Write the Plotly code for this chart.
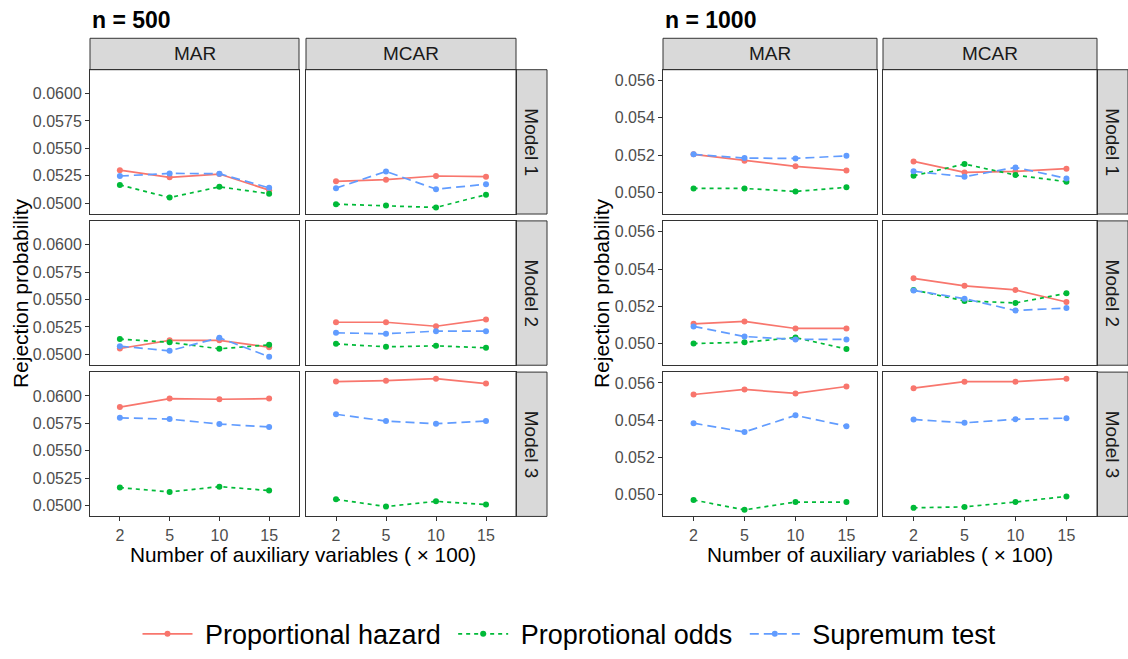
import plotly.graph_objects as go

# ---------------------------------------------------------------------------
# Data: rejection probabilities by number of auxiliary variables (x 100)
# Each array is indexed [model][mechanism][x level]; mechanisms are MAR, MCAR
# ---------------------------------------------------------------------------
x_levels = ["2", "5", "10", "15"]
mechanisms = ["MAR", "MCAR"]
models = ["Model 1", "Model 2", "Model 3"]
test_names = ["Proportional hazard", "Proprotional odds", "Supremum test"]

ph_500 = [
    [[0.05301, 0.05236, 0.05266, 0.05119], [0.05200, 0.05215, 0.05248, 0.05242]],
    [[0.05054, 0.05128, 0.05128, 0.05066], [0.05293, 0.05293, 0.05257, 0.05319]],
    [[0.05899, 0.05976, 0.05970, 0.05976], [0.06131, 0.06140, 0.06158, 0.06113]],
]
po_500 = [
    [[0.05167, 0.05051, 0.05149, 0.05087], [0.04991, 0.04979, 0.04961, 0.05078]],
    [[0.05140, 0.05110, 0.05051, 0.05087], [0.05096, 0.05069, 0.05078, 0.05060]],
    [[0.05164, 0.05125, 0.05173, 0.05137], [0.05057, 0.04991, 0.05039, 0.05009]],
]
sup_500 = [
    [[0.05248, 0.05272, 0.05269, 0.05140], [0.05137, 0.05290, 0.05128, 0.05173]],
    [[0.05075, 0.05033, 0.05152, 0.04979], [0.05197, 0.05188, 0.05212, 0.05212]],
    [[0.05801, 0.05789, 0.05744, 0.05717], [0.05833, 0.05771, 0.05747, 0.05771]],
]

ph_1000 = [
    [[0.05204, 0.05170, 0.05140, 0.05118], [0.05166, 0.05107, 0.05113, 0.05127]],
    [[0.05106, 0.05119, 0.05081, 0.05081], [0.05350, 0.05310, 0.05288, 0.05223]],
    [[0.05538, 0.05565, 0.05544, 0.05581], [0.05572, 0.05607, 0.05607, 0.05623]],
]
po_1000 = [
    [[0.05021, 0.05021, 0.05005, 0.05027], [0.05089, 0.05152, 0.05093, 0.05057]],
    [[0.05000, 0.05007, 0.05032, 0.04971], [0.05288, 0.05229, 0.05218, 0.05270]],
    [[0.04972, 0.04919, 0.04961, 0.04961], [0.04930, 0.04935, 0.04961, 0.04991]],
]
sup_1000 = [
    [[0.05204, 0.05184, 0.05182, 0.05196], [0.05113, 0.05084, 0.05134, 0.05075]],
    [[0.05092, 0.05038, 0.05022, 0.05022], [0.05285, 0.05241, 0.05177, 0.05191]],
    [[0.05384, 0.05337, 0.05426, 0.05368], [0.05404, 0.05386, 0.05405, 0.05411]],
]

yticks_500 = [0.0500, 0.0525, 0.0550, 0.0575, 0.0600]
yticks_1000 = [0.050, 0.052, 0.054, 0.056]

# ---------------------------------------------------------------------------
# Styling
# ---------------------------------------------------------------------------
W, H = 1128, 659
FONT = "Liberation Sans, Arial, sans-serif"
colors = ["#F8766D", "#00BA38", "#619CFF"]
dashes = ["solid", "4px,4px", "9px,5px"]
border = "#333333"
strip_fill = "#D9D9D9"
NBSP = "\u00a0"


def fx(px):
    return px / W


def fy(px):
    return 1 - px / H


row_px = [(71, 218), (225, 372), (379, 526)]
strip_top, strip_bot = 39, 71
strip_w = 31

blocks = [
    dict(title="n = 500", series=[ph_500, po_500, sup_500], ticks=yticks_500,
         fmt="{:.4f}", cols=[(90, 299), (306, 516)], ytitle_x=20),
    dict(title="n = 1000", series=[ph_1000, po_1000, sup_1000], ticks=yticks_1000,
         fmt="{:.3f}", cols=[(663, 877), (883, 1097)], ytitle_x=601),
]

fig = go.Figure()
layout = dict(
    width=W, height=H, margin=dict(l=0, r=0, t=0, b=0),
    paper_bgcolor="white", plot_bgcolor="white",
    font=dict(family=FONT, color="black"),
    showlegend=True,
    legend=dict(orientation="h", x=fx(573), xanchor="center", y=fy(646), yanchor="middle",
                font=dict(size=27, family=FONT, color="black"),
                itemwidth=50, traceorder="normal", bgcolor="rgba(0,0,0,0)"),
)
shapes = []
annotations = []

idx = 0
for b_i, blk in enumerate(blocks):
    vals = [v for s in blk["series"] for m in s for mech in m for v in mech]
    lo, hi = min(vals), max(vals)
    pad = (hi - lo) * 0.05
    yrange = [lo - pad, hi + pad]
    left_px = blk["cols"][0][0]
    right_px = blk["cols"][1][1]

    for r, (top, bot) in enumerate(row_px):
        for c, (x0, x1) in enumerate(blk["cols"]):
            idx += 1
            sfx = "" if idx == 1 else str(idx)
            bottom_row = r == len(row_px) - 1
            left_col = c == 0
            layout["xaxis" + sfx] = dict(
                domain=[fx(x0), fx(x1)], anchor="y" + sfx,
                type="category", categoryorder="array", categoryarray=x_levels,
                range=[-0.6, 3.6], showgrid=False, zeroline=False,
                showline=True, mirror=True, linecolor=border, linewidth=1,
                ticks="outside" if bottom_row else "", ticklen=4, tickcolor=border,
                showticklabels=bottom_row,
                tickfont=dict(size=16, color="#4D4D4D", family=FONT),
            )
            layout["yaxis" + sfx] = dict(
                domain=[fy(bot), fy(top)], anchor="x" + sfx,
                range=yrange, showgrid=False, zeroline=False,
                showline=True, mirror=True, linecolor=border, linewidth=1,
                tickvals=blk["ticks"], ticktext=[blk["fmt"].format(t) for t in blk["ticks"]],
                ticks="outside" if left_col else "", ticklen=4, tickcolor=border,
                showticklabels=left_col,
                tickfont=dict(size=16, color="#4D4D4D", family=FONT),
            )
            for s_i, series in enumerate(blk["series"]):
                fig.add_trace(go.Scatter(
                    x=x_levels, y=series[r][c], mode="lines+markers",
                    name=NBSP + test_names[s_i] + NBSP, legendgroup=test_names[s_i],
                    showlegend=(idx == 1),
                    line=dict(color=colors[s_i], width=1.7, dash=dashes[s_i]),
                    marker=dict(color=colors[s_i], size=6),
                    xaxis="x" + sfx, yaxis="y" + sfx, hoverinfo="skip",
                ))

            # column strip
            if r == 0:
                shapes.append(dict(type="rect", xref="paper", yref="paper",
                                   x0=fx(x0), x1=fx(x1), y0=fy(strip_bot), y1=fy(strip_top),
                                   fillcolor=strip_fill, line=dict(color=border, width=1),
                                   layer="below"))
                annotations.append(dict(xref="paper", yref="paper", x=fx((x0 + x1) / 2),
                                        y=fy((strip_top + strip_bot) / 2), text=mechanisms[c],
                                        showarrow=False, xanchor="center", yanchor="middle",
                                        font=dict(size=19, color="#1A1A1A", family=FONT)))
        # row strip
        sx0 = blk["cols"][1][1]
        shapes.append(dict(type="rect", xref="paper", yref="paper",
                           x0=fx(sx0), x1=fx(sx0 + strip_w), y0=fy(bot), y1=fy(top),
                           fillcolor=strip_fill, line=dict(color=border, width=1),
                           layer="below"))
        annotations.append(dict(xref="paper", yref="paper", x=fx(sx0 + strip_w / 2),
                                y=fy((top + bot) / 2), text=models[r], textangle=90,
                                showarrow=False, xanchor="center", yanchor="middle",
                                font=dict(size=19, color="#1A1A1A", family=FONT)))

    # block title
    annotations.append(dict(xref="paper", yref="paper", x=fx(left_px), y=fy(20),
                            text="<b>" + blk["title"] + "</b>", showarrow=False,
                            xanchor="left", yanchor="middle",
                            font=dict(size=23, color="black", family=FONT)))
    # axis titles
    annotations.append(dict(xref="paper", yref="paper", x=fx((left_px + right_px) / 2),
                            y=fy(565), text="Number of auxiliary variables ( \u00d7 100)",
                            showarrow=False, xanchor="center", yanchor="middle",
                            font=dict(size=20.8, color="black", family=FONT)))
    annotations.append(dict(xref="paper", yref="paper", x=fx(blk["ytitle_x"]),
                            y=fy((row_px[0][0] + row_px[-1][1]) / 2),
                            text="Rejection probability", textangle=-90,
                            showarrow=False, xanchor="center", yanchor="middle",
                            font=dict(size=21, color="black", family=FONT)))

layout["shapes"] = shapes
layout["annotations"] = annotations
fig.update_layout(**layout)
fig.write_html("out.html")
